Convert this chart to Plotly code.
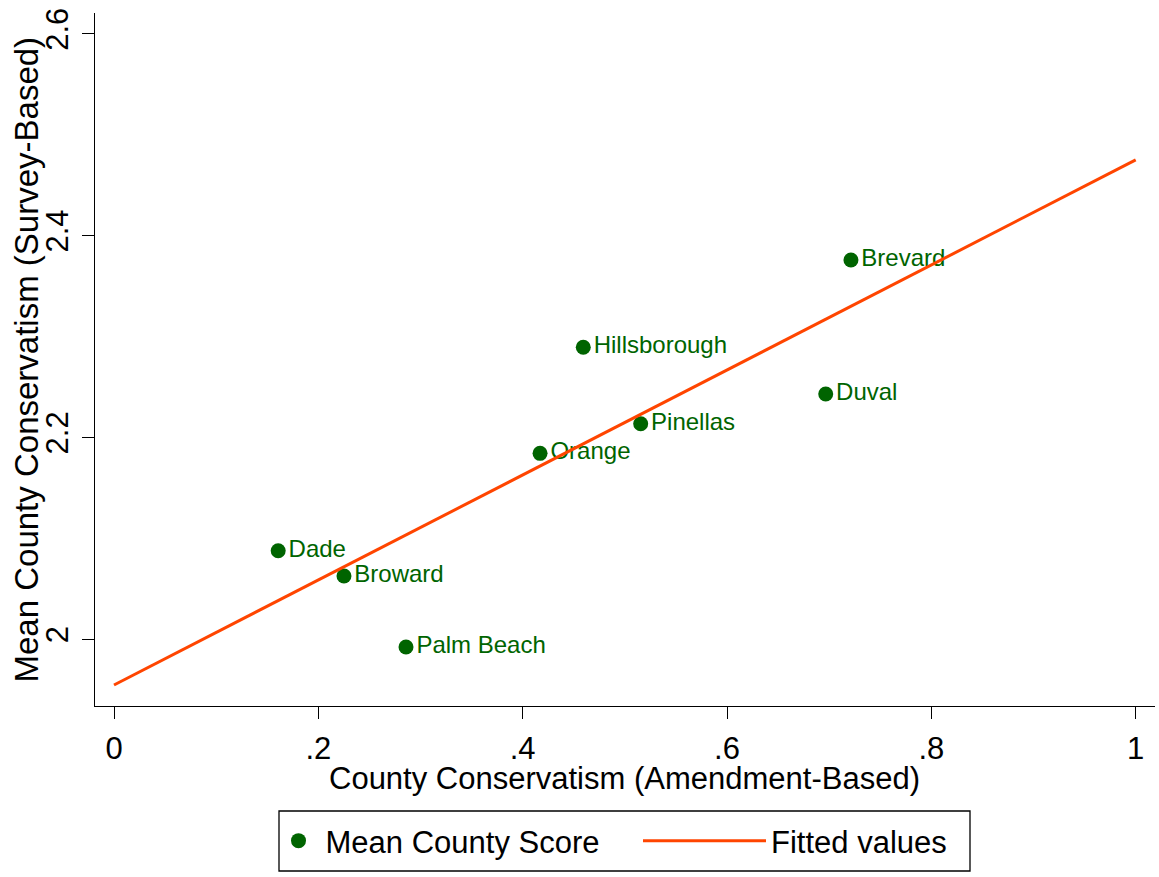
import numpy as np
import plotly.graph_objects as go

# County-level conservatism measures
counties = ["Dade", "Broward", "Palm Beach", "Orange", "Hillsborough",
            "Pinellas", "Duval", "Brevard"]
amendment_based = [0.1607, 0.2251, 0.2858, 0.4170, 0.4593, 0.5155, 0.6966, 0.7213]
survey_based = [2.0878, 2.0627, 1.9924, 2.1843, 2.2894, 2.2137, 2.2431, 2.3759]

x_ticks = [0, 0.2, 0.4, 0.6, 0.8, 1]
x_tick_labels = ["0", ".2", ".4", ".6", ".8", "1"]
y_ticks = [2, 2.2, 2.4, 2.6]
y_tick_labels = ["2", "2.2", "2.4", "2.6"]

# Linear fit drawn across the full amendment-based scale
fit_domain = [0, 1]
slope, intercept = np.polyfit(amendment_based, survey_based, 1)
fit_x = np.array(fit_domain, dtype=float)
fit_y = intercept + slope * fit_x

FONT = "Liberation Sans, Arial, sans-serif"
GREEN = "#006400"
ORANGE = "#FF4500"

fig = go.Figure()

fig.add_trace(go.Scatter(
    x=amendment_based, y=survey_based,
    mode="markers+text",
    text=counties,
    textposition="middle right",
    textfont=dict(family=FONT, size=24, color=GREEN),
    marker=dict(size=15, color=GREEN),
    name="Mean County Score",
    legend="legend",
))

fig.add_trace(go.Scatter(
    x=fit_x, y=fit_y,
    mode="lines",
    line=dict(color=ORANGE, width=3),
    name="Fitted values",
    legend="legend2",
))

# plot area in pixels: x 95..1155, y 13..706
L, R, T, B = 95, 1155, 13, 706
W, H = 1159, 877

def px_to_paper_x(px):
    return (px - L) / (R - L)

def px_to_paper_y(py):
    return (B - py) / (B - T)

legend_common = dict(
    orientation="h",
    xanchor="left",
    y=px_to_paper_y(841), yanchor="middle",
    bgcolor="rgba(0,0,0,0)",
    borderwidth=0,
    font=dict(family=FONT, size=31, color="black"),
)

fig.update_layout(
    width=W, height=H,
    margin=dict(l=L, r=W - R, t=T, b=H - B, pad=0),
    paper_bgcolor="white",
    plot_bgcolor="white",
    font=dict(family=FONT, color="black"),
    showlegend=True,
    legend=dict(x=px_to_paper_x(271.5), itemwidth=44, **legend_common),
    legend2=dict(x=px_to_paper_x(638), itemwidth=123, **legend_common),
    shapes=[dict(
        type="rect", xref="paper", yref="paper",
        x0=px_to_paper_x(279), x1=px_to_paper_x(970),
        y0=px_to_paper_y(871), y1=px_to_paper_y(811),
        line=dict(color="black", width=1.3),
        fillcolor="rgba(0,0,0,0)",
    )],
    annotations=[
        dict(
            text="Mean County Conservatism (Survey-Based)",
            xref="paper", yref="paper",
            x=px_to_paper_x(26), xanchor="center",
            y=0.5, yanchor="middle",
            textangle=-90, showarrow=False,
            font=dict(family=FONT, size=33, color="black"),
        ),
        dict(
            text="County Conservatism (Amendment-Based)",
            xref="paper", yref="paper",
            x=px_to_paper_x(624), xanchor="center",
            y=px_to_paper_y(778), yanchor="middle",
            showarrow=False,
            font=dict(family=FONT, size=31, color="black"),
        ),
    ],
)

fig.update_xaxes(
    range=[(L - 114) / 1021.7, (R - 114) / 1021.7],
    tickvals=x_ticks, ticktext=x_tick_labels,
    tickfont=dict(family=FONT, size=31, color="black"),
    ticks="outside", ticklen=12, tickwidth=1.3, tickcolor="black",
    ticklabelstandoff=3,
    showline=True, linecolor="black", linewidth=1.3,
    showgrid=False, zeroline=False,
)

fig.update_yaxes(
    range=[2 - (B - 639.3) / 1009, 2 + (639.3 - T) / 1009],
    tickvals=y_ticks, ticktext=y_tick_labels,
    tickangle=-90,
    tickfont=dict(family=FONT, size=31, color="black"),
    ticks="outside", ticklen=12, tickwidth=1.3, tickcolor="black",
    ticklabelstandoff=1,
    showline=True, linecolor="black", linewidth=1.3,
    showgrid=False, zeroline=False,
)

fig.write_html("out.html")
